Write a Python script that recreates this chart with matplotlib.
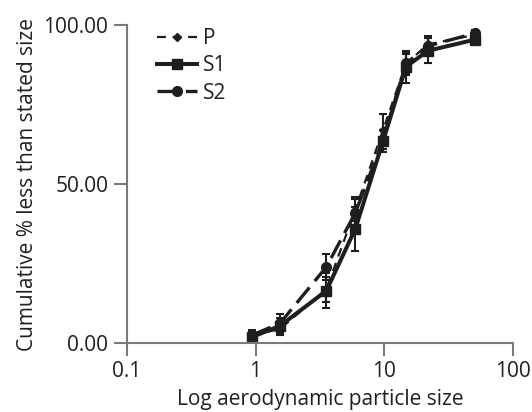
import matplotlib
matplotlib.use("Agg")
import matplotlib.pyplot as plt
from matplotlib.ticker import FixedLocator, FixedFormatter, NullLocator

plt.rcParams['font.family'] = ['Open Sans', 'DejaVu Sans']

# Data
sizes = [0.94, 1.55, 3.55, 5.97, 9.8, 14.8, 22, 51]
P = [2.5, 4.5, 17.0, 42.0, 67.0, 88.0, 94.0, 97.0]
S1 = [2.0, 5.5, 16.5, 36.0, 63.5, 87.0, 92.0, 95.5]
S2 = [2.6, 6.3, 24.0, 41.0, 64.0, 88.0, 93.5, 97.5]
P_err = [1.0, 2.0, 4.0, 3.5, 5.0, 3.0, 2.5, 1.5]
S1_err = [1.5, 2.5, 5.5, 7.0, 3.5, 5.0, 4.0, 1.5]
S2_err = [1.5, 3.0, 4.0, 5.0, 3.0, 3.5, 2.5, 1.0]
xticks = [0.1, 1, 10, 100]
xticklabels = ['0.1', '1', '10', '100']
yticks = [0, 50, 100]
yticklabels = ['0.00', '50.00', '100.00']

dark = '#1e1e1e'
gray = '#7a7a7a'
txt = '#231f20'

fig = plt.figure(figsize=(5.32, 4.12), dpi=100)
ax = fig.add_axes([0.2387, 0.1667, 0.725, 0.772])

ax.errorbar(sizes, P, yerr=P_err, color=dark, lw=1.6, ls=(0, (4, 3)),
            marker='D', ms=4, capsize=3, elinewidth=1.5, capthick=1.5, label='P')
ax.errorbar(sizes, S1, yerr=S1_err, color=dark, lw=2.9, ls='-',
            marker='s', ms=7, capsize=3, elinewidth=1.5, capthick=1.5, label='S1')
ax.errorbar(sizes, S2, yerr=S2_err, color=dark, lw=2.4, ls=(0, (6, 2.5)),
            marker='o', ms=7, capsize=3, elinewidth=1.5, capthick=1.5, label='S2')

ax.set_xscale('log')
ax.set_xlim(0.1, 100)
ax.set_ylim(0, 100)
ax.xaxis.set_major_locator(FixedLocator(xticks))
ax.xaxis.set_major_formatter(FixedFormatter(xticklabels))
ax.xaxis.set_minor_locator(NullLocator())
ax.yaxis.set_major_locator(FixedLocator(yticks))
ax.yaxis.set_major_formatter(FixedFormatter(yticklabels))

for s in ['top', 'right']:
    ax.spines[s].set_visible(False)
for s in ['left', 'bottom']:
    ax.spines[s].set_color(gray)
    ax.spines[s].set_linewidth(1.5)
ax.tick_params(axis='both', direction='out', length=9.5, width=1.5, color=gray,
               labelsize=15, labelcolor=txt)
ax.tick_params(axis='x', pad=3)
ax.tick_params(axis='y', pad=4)

ax.set_xlabel('Log aerodynamic particle size', fontsize=15, color=txt, labelpad=5)
ax.set_ylabel('Cumulative % less than stated size', fontsize=15, color=txt, labelpad=4)

handles, labels = ax.get_legend_handles_labels()
handles = [h[0] for h in handles]
leg = ax.legend(handles, labels, loc='upper left', bbox_to_anchor=(0.03, 1.05),
                frameon=False, fontsize=15, handlelength=1.9, handletextpad=0.3,
                labelspacing=0.3, labelcolor=txt)

fig.savefig('out.png', dpi=100)
